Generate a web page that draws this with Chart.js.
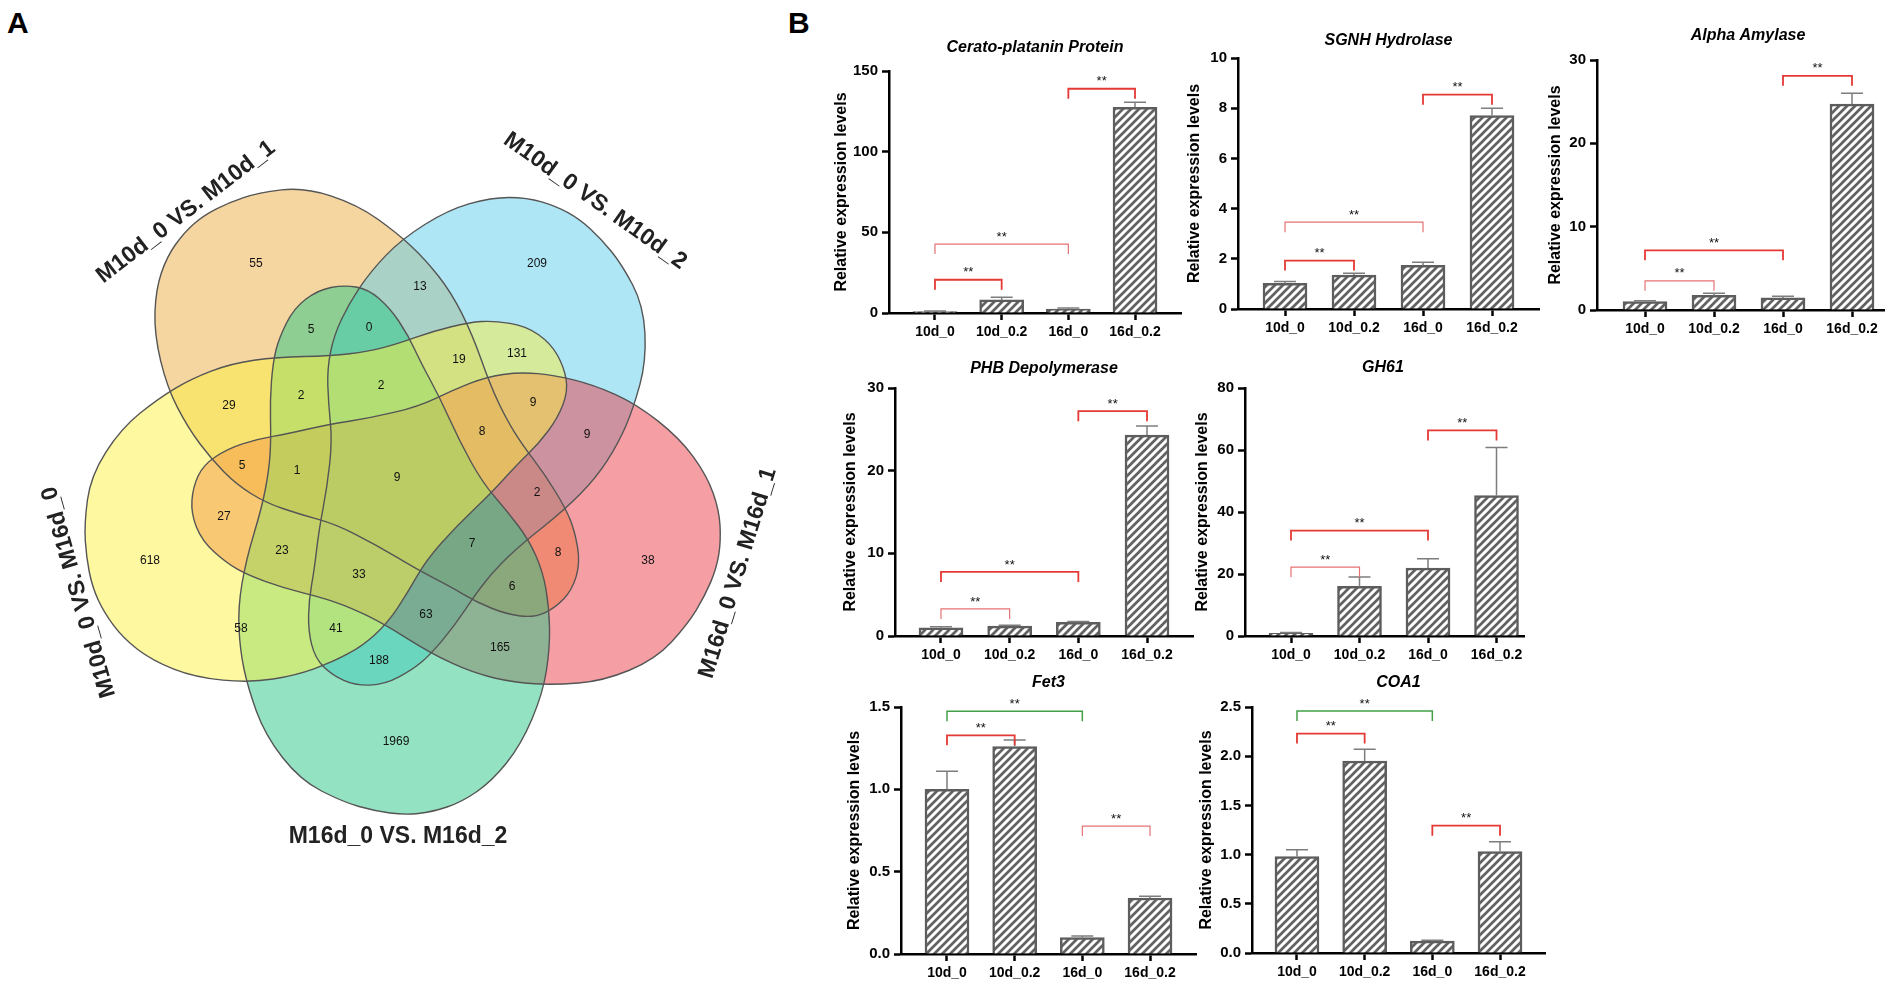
<!DOCTYPE html>
<html>
<head>
<meta charset="utf-8">
<script src="https://cdn.jsdelivr.net/npm/chart.js@4.4.1/dist/chart.umd.min.js"></script>
<style>
  html, body { margin: 0; padding: 0; background: #fff; }
  body { width: 1904px; height: 987px; position: relative; overflow: hidden; font-family: "Liberation Sans", Arial, sans-serif; }
  .panel-letter { position: absolute; font-weight: bold; font-size: 30px; line-height: 30px; color: #000; }
  canvas { position: absolute; }
</style>
</head>
<body>
<div class="panel-letter" style="left:7px;top:8px">A</div>
<div class="panel-letter" style="left:788px;top:8px">B</div>
<canvas id="venn" width="800" height="900" style="left:0;top:0"></canvas>

<script>
// ── Data ─────────────────────────────────────────────────────────────────────

const groups = ['10d_0', '10d_0.2', '16d_0', '16d_0.2'];

const ceratoMean = [0.9, 8.1, 2.5, 127.5];
const ceratoErr  = [0.3, 1.7, 0.6, 3.1];
const ceratoSig  = [[2, 3, 139, 'r'], [0, 2, 42.7, 'l'], [0, 1, 20.6, 'r']];

const sgnhMean = [1.02, 1.35, 1.74, 7.71];
const sgnhErr  = [0.08, 0.07, 0.12, 0.29];
const sgnhSig  = [[2, 3, 8.54, 'r'], [0, 2, 3.46, 'l'], [0, 1, 1.93, 'r']];

const alphaMean = [1.0, 1.75, 1.45, 24.7];
const alphaErr  = [0.1, 0.25, 0.2, 1.3];
const alphaSig  = [[2, 3, 28.1, 'r'], [0, 2, 7.16, 'r'], [0, 1, 3.5, 'l']];

const phbMean = [1.0, 1.2, 1.66, 24.3];
const phbErr  = [0.12, 0.1, 0.1, 1.1];
const phbSig  = [[2, 3, 27.2, 'r'], [0, 2, 7.75, 'r'], [0, 1, 3.27, 'l']];

const gh61Mean = [0.9, 16.0, 21.9, 45.3];
const gh61Err  = [0.2, 3.0, 3.0, 15.5];
const gh61Sig  = [[2, 3, 66.3, 'r'], [0, 2, 34, 'r'], [0, 1, 22.2, 'l']];

const fet3Mean = [1.0, 1.26, 0.10, 0.34];
const fet3Err  = [0.11, 0.04, 0.01, 0.01];
const fet3Sig  = [[0, 2, 1.474, 'g'], [0, 1, 1.328, 'r'], [2, 3, 0.777, 'l']];

const coa1Mean = [0.98, 1.95, 0.12, 1.03];
const coa1Err  = [0.07, 0.12, 0.01, 0.10];
const coa1Sig  = [[0, 2, 2.46, 'g'], [0, 1, 2.23, 'r'], [2, 3, 1.294, 'r']];

const vennNames  = ['M10d_0 VS. M10d_1', 'M10d_0 VS. M10d_2', 'M16d_0 VS. M16d_1', 'M16d_0 VS. M16d_2', 'M10d_0 VS. M16d_0'];
const vennCounts = [55, 209, 38, 1969, 618, 13, 0, 5, 19, 131, 29, 2, 2, 9, 8, 9, 5, 1, 9, 2, 27, 23, 7, 8, 33, 6, 63, 58, 41, 165, 188];

// ── Layout (positions only) ──────────────────────────────────────────────────

const countPos = [[256,264],[537,264],[648,561],[396,742],[150,561],[420,287],[369,328],[311,330],[459,360],[517,354],
  [229,406],[301,396],[381,386],[533,403],[482,432],[587,435],[242,466],[297,471],[397,478],[537,493],
  [224,517],[282,551],[472,544],[558,553],[359,575],[512,587],[426,615],[241,629],[336,629],[500,648],[379,661]];

// one set outline (the bottom one); every set is this shape moved onto its own tip/end
const vennTemplate = [[344,285],[368,289],[390,308],[408,335],[421,363],[440,398],[459,440],[482,482],[507,511],[529,540],
  [543,572],[549,607],[550,647],[543,693],[521,745],[492,781],[462,802],[432,812],[405,815],[375,811],[343,802],[300,780],
  [265,735],[248,688],[240,650],[238,607],[246,560],[262,507],[269,470],[271,440],[270,400],[273,362],[279,338],[294,308],[318,290]];
const T0 = [344, 285], B0 = [410, 814];

const vennPlace = [
  { tip: [555, 608], end: [200, 219], w: 0.95, color: '#ebab41', label: [186, 212, -37.6] },
  { tip: [332, 675], end: [575, 217], w: 1.0,  color: '#5dcdeb', label: [595, 201, 35.5] },
  { tip: [193, 487], end: [717, 563], w: 1.0,  color: '#eb3f49', label: [738, 573, -73] },
  { tip: [344, 285], end: [410, 814], w: 1.0,  color: '#27c785', label: [398, 837, 0] },
  { tip: [564, 367], end: [95, 592],  w: 1.04, color: '#fdf141', label: [79, 592, -106] }
];

const panels = [
  { id: 'cerato', title: 'Cerato-platanin Protein', mean: ceratoMean, err: ceratoErr, sig: ceratoSig, max: 150, step: 50, dec: 0,
    axisX: 889, top: 71, zero: 312.5, first: 935, stepX: 66.7, titleY: 48, yTitleX: 842 },
  { id: 'sgnh', title: 'SGNH Hydrolase', mean: sgnhMean, err: sgnhErr, sig: sgnhSig, max: 10, step: 2, dec: 0,
    axisX: 1238, top: 58.3, zero: 309, first: 1285, stepX: 69, titleY: 41, yTitleX: 1195 },
  { id: 'alpha', title: 'Alpha Amylase', mean: alphaMean, err: alphaErr, sig: alphaSig, max: 30, step: 10, dec: 0,
    axisX: 1597, top: 60, zero: 310, first: 1645, stepX: 69, titleY: 36, yTitleX: 1556, right: 1884, titleX: 1748 },
  { id: 'phb', title: 'PHB Depolymerase', mean: phbMean, err: phbErr, sig: phbSig, max: 30, step: 10, dec: 0,
    axisX: 895, top: 387.7, zero: 635.7, first: 941, stepX: 68.7, titleY: 368, yTitleX: 851 },
  { id: 'gh61', title: 'GH61', mean: gh61Mean, err: gh61Err, sig: gh61Sig, max: 80, step: 20, dec: 0,
    axisX: 1245, top: 387.7, zero: 635.7, first: 1291, stepX: 68.5, titleY: 367, yTitleX: 1203, right: 1524, titleX: 1383 },
  { id: 'fet3', title: 'Fet3', mean: fet3Mean, err: fet3Err, sig: fet3Sig, max: 1.5, step: 0.5, dec: 1,
    axisX: 901, top: 707, zero: 954, first: 947, stepX: 67.7, titleY: 683, yTitleX: 855 },
  { id: 'coa1', title: 'COA1', mean: coa1Mean, err: coa1Err, sig: coa1Sig, max: 2.5, step: 0.5, dec: 1,
    axisX: 1252, top: 707, zero: 953, first: 1297, stepX: 67.7, titleY: 683, yTitleX: 1207 }
];

const FONT = '"Liberation Sans", Arial, sans-serif';
const SIG_STYLE = { r: ['#e53935', 1.8], l: ['#e57373', 1.2], g: ['#43a047', 1.5] };

// ── Helpers ──────────────────────────────────────────────────────────────────

function hexAlpha(hex, alpha) {
  const r = parseInt(hex.slice(1, 3), 16);
  const g = parseInt(hex.slice(3, 5), 16);
  const b = parseInt(hex.slice(5, 7), 16);
  return `rgba(${r},${g},${b},${alpha})`;
}

function hatchPattern() {
  const c = document.createElement('canvas');
  c.width = c.height = 8;
  const g = c.getContext('2d');
  g.fillStyle = '#fff';
  g.fillRect(0, 0, 8, 8);
  g.strokeStyle = '#626262';
  g.lineWidth = 2.7;
  g.beginPath();
  g.moveTo(-2, 10); g.lineTo(10, -2);
  g.moveTo(-2, 2); g.lineTo(2, -2);
  g.moveTo(6, 10); g.lineTo(10, 6);
  g.stroke();
  return g.createPattern(c, 'repeat');
}

function placeShape(place) {
  const ax0 = B0[0] - T0[0], ay0 = B0[1] - T0[1];
  const L0 = Math.hypot(ax0, ay0);
  const ux0 = ax0 / L0, uy0 = ay0 / L0;
  const ax = place.end[0] - place.tip[0], ay = place.end[1] - place.tip[1];
  const L = Math.hypot(ax, ay);
  const ux = ax / L, uy = ay / L;
  const s = L / L0;
  return vennTemplate.map(([px, py]) => {
    const dx = px - T0[0], dy = py - T0[1];
    const v = (dx * ux0 + dy * uy0) * s;
    const p = (dx * uy0 - dy * ux0) * s * place.w;
    return [place.tip[0] + v * ux + p * uy, place.tip[1] + v * uy - p * ux];
  });
}

function smoothPath(ctx, pts) {
  const n = pts.length;
  const mid = (a, b) => [(a[0] + b[0]) / 2, (a[1] + b[1]) / 2];
  const start = mid(pts[n - 1], pts[0]);
  ctx.moveTo(start[0], start[1]);
  for (let i = 0; i < n; i++) {
    const m = mid(pts[i], pts[(i + 1) % n]);
    ctx.quadraticCurveTo(pts[i][0], pts[i][1], m[0], m[1]);
  }
  ctx.closePath();
}

// ── Venn ─────────────────────────────────────────────────────────────────────

const vennPlugin = {
  id: 'venn',
  beforeDatasetsDraw(chart) {
    const { ctx, scales: { x, y } } = chart;
    const toPx = p => [x.getPixelForValue(p[0]), y.getPixelForValue(p[1])];
    const shapes = vennPlace.map(pl => placeShape(pl).map(toPx));

    ctx.save();
    shapes.forEach((pts, k) => {
      ctx.beginPath();
      smoothPath(ctx, pts);
      ctx.fillStyle = hexAlpha(vennPlace[k].color, 0.5);
      ctx.fill();
    });
    ctx.strokeStyle = '#555';
    ctx.lineWidth = 1.4;
    shapes.forEach(pts => {
      ctx.beginPath();
      smoothPath(ctx, pts);
      ctx.stroke();
    });

    ctx.fillStyle = '#111';
    ctx.font = `12px ${FONT}`;
    ctx.textAlign = 'center';
    ctx.textBaseline = 'middle';
    vennCounts.forEach((c, i) => {
      const [px, py] = toPx(countPos[i]);
      ctx.fillText(String(c), px, py);
    });

    ctx.fillStyle = '#222';
    ctx.font = `bold 23px ${FONT}`;
    vennPlace.forEach((pl, k) => {
      const [lx, ly, deg] = pl.label;
      const [px, py] = toPx([lx, ly]);
      ctx.save();
      ctx.translate(px, py);
      ctx.rotate(deg * Math.PI / 180);
      ctx.fillText(vennNames[k], 0, 0);
      ctx.restore();
    });
    ctx.restore();
  }
};

new Chart(document.getElementById('venn').getContext('2d'), {
  type: 'scatter',
  data: { datasets: [{ data: [] }] },
  options: {
    responsive: false,
    animation: false,
    events: [],
    layout: { padding: 0 },
    plugins: { legend: { display: false }, tooltip: { enabled: false } },
    scales: {
      x: { type: 'linear', min: 0, max: 800, display: false },
      y: { type: 'linear', min: 0, max: 900, reverse: true, display: false }
    }
  },
  plugins: [vennPlugin]
});

// ── Bar panels ───────────────────────────────────────────────────────────────

function extrasPlugin(spec) {
  return {
    id: 'extras',
    afterDatasetsDraw(chart) {
      const { ctx, chartArea, scales: { x, y } } = chart;
      ctx.save();

      // error bars (upper half only, the bar hides the rest)
      ctx.strokeStyle = '#7d7d7d';
      ctx.lineWidth = 1.5;
      spec.mean.forEach((m, i) => {
        const cx = x.getPixelForValue(i);
        const y0 = y.getPixelForValue(m);
        const y1 = y.getPixelForValue(m + spec.err[i]);
        ctx.beginPath();
        ctx.moveTo(cx, y0); ctx.lineTo(cx, y1);
        ctx.moveTo(cx - 11, y1); ctx.lineTo(cx + 11, y1);
        ctx.stroke();
      });

      // significance brackets
      ctx.font = `13px ${FONT}`;
      ctx.textAlign = 'center';
      ctx.textBaseline = 'middle';
      spec.sig.forEach(([a, b, v, kind]) => {
        const [color, lw] = SIG_STYLE[kind];
        const xa = x.getPixelForValue(a), xb = x.getPixelForValue(b), yy = y.getPixelForValue(v);
        ctx.strokeStyle = color;
        ctx.lineWidth = lw;
        ctx.beginPath();
        ctx.moveTo(xa, yy + 10); ctx.lineTo(xa, yy); ctx.lineTo(xb, yy); ctx.lineTo(xb, yy + 10);
        ctx.stroke();
        ctx.fillStyle = '#111';
        ctx.fillText('**', (xa + xb) / 2, yy - 7);
      });

      // panel title
      const cx = spec.titleX ? chartArea.left + (spec.titleX - spec.axisX) : (chartArea.left + chartArea.right) / 2;
      ctx.fillStyle = '#000';
      ctx.font = `italic bold 16px ${FONT}`;
      ctx.fillText(spec.title, cx, chartArea.top - (spec.top - spec.titleY));
      ctx.restore();
    }
  };
}

function renderPanel(spec, hatch) {
  const last = spec.first + 3 * spec.stepX;
  const right = spec.right || last + (spec.first - spec.axisX);
  const minX = -(spec.first - spec.axisX) / spec.stepX;
  const maxX = 3 + (right - last) / spec.stepX;
  const left = spec.axisX - 75;
  const top = spec.top - 45;

  const canvas = document.createElement('canvas');
  canvas.width = Math.round(right + 12 - left);
  canvas.height = Math.round(spec.zero + 45 - top);
  canvas.style.left = left + 'px';
  canvas.style.top = top + 'px';
  document.body.appendChild(canvas);

  new Chart(canvas.getContext('2d'), {
    type: 'bar',
    data: {
      datasets: [{
        data: spec.mean.map((v, i) => ({ x: i, y: v })),
        backgroundColor: hatch,
        borderColor: '#5d5d5d',
        borderWidth: 2.5,
        barThickness: 44
      }]
    },
    options: {
      responsive: false,
      animation: false,
      events: [],
      layout: { padding: { left: 0, top: 45, right: 12, bottom: 0 } },
      plugins: { legend: { display: false }, tooltip: { enabled: false } },
      scales: {
        x: {
          type: 'linear',
          offset: false,
          bounds: 'data',
          min: minX,
          max: maxX,
          afterBuildTicks: s => {
            s.ticks = groups.map((_, i) => ({ value: i }));
            s.min = minX;
            s.max = maxX;
          },
          afterFit: s => { s.height = 45; },
          ticks: {
            autoSkip: false, maxRotation: 0, padding: 4, color: '#000',
            font: { family: FONT, size: 14, weight: 'bold' },
            callback: v => groups[v]
          },
          grid: { offset: false, drawOnChartArea: false, tickLength: 7, tickWidth: 2.5, tickColor: '#000' },
          border: { display: true, color: '#000', width: 2.5 }
        },
        y: {
          min: 0,
          max: spec.max,
          afterFit: s => { s.width = 75; },
          ticks: {
            stepSize: spec.step, padding: 4, color: '#000',
            font: { family: FONT, size: 15, weight: 'bold' },
            callback: v => spec.dec ? v.toFixed(spec.dec) : v
          },
          grid: { drawOnChartArea: false, tickLength: 7, tickWidth: 2.5, tickColor: '#000' },
          border: { display: true, color: '#000', width: 2.5 },
          title: {
            display: true,
            text: 'Relative expression levels',
            color: '#000',
            font: { family: FONT, size: 16, weight: 'bold' },
            padding: { top: spec.yTitleX - left - 9.6, bottom: 0 }
          }
        }
      }
    },
    plugins: [extrasPlugin(spec)]
  });
}

const hatch = hatchPattern();
panels.forEach(p => renderPanel(p, hatch));
</script>
</body>
</html>
